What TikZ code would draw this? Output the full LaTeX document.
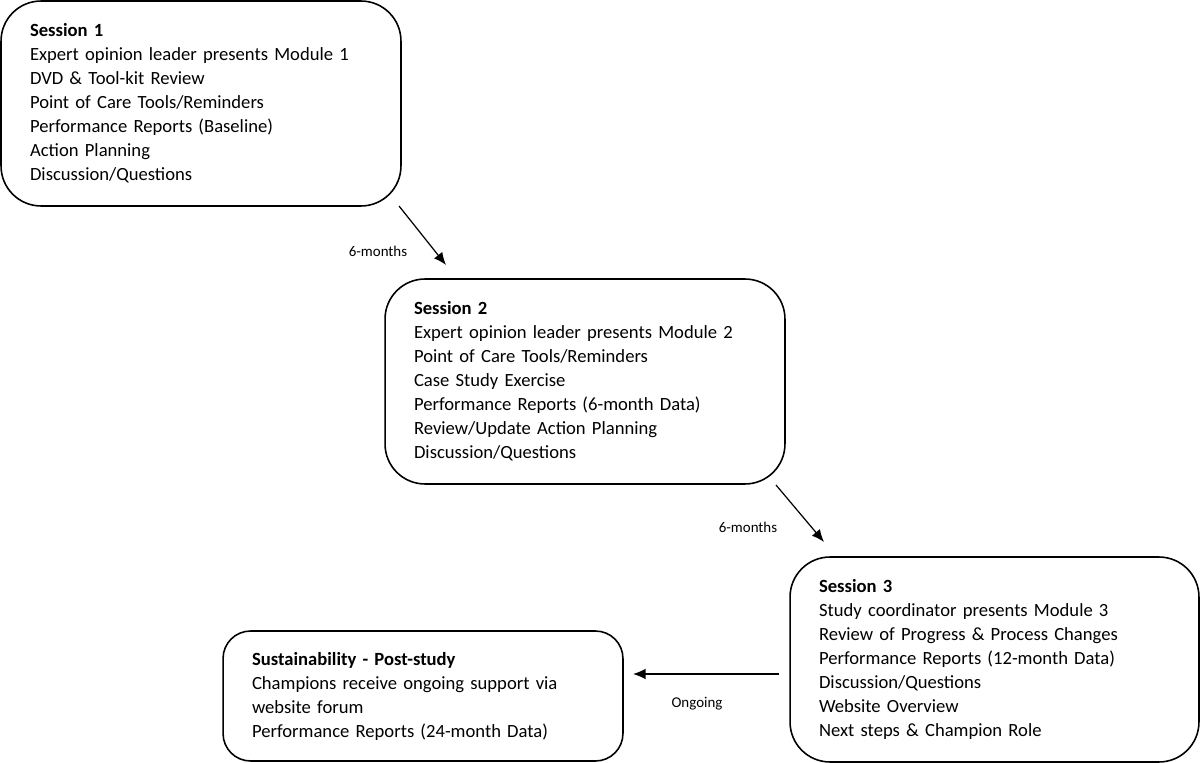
\documentclass[tikz,border=0pt]{standalone}
\usepackage{fontspec}
\setmainfont{Carlito}
\usetikzlibrary{arrows.meta, positioning}

\begin{document}
\begin{tikzpicture}[
  x = 0.02cm, y = -0.02cm,
  session/.style={draw, line width=0.9pt, rounded corners=0.8cm, align=left,
    inner xsep=0.58cm, inner ysep=0pt, minimum height=4.1cm,
    font={\fontsize{10.6}{13.66}\selectfont}},
  lapse/.style={font={\fontsize{8.5}{10}\selectfont}},
  step arrow/.style={-{Latex[length=2.5mm, width=2.1mm]}, line width=0.7pt}
]
%canvas
\useasboundingbox (0,0) rectangle (1200,763);

%sessions
\node[session, minimum width=8cm, text width=6.84cm] (s1) at (201,103.5)
  {\textbf{Session 1}\\ Expert opinion leader presents Module 1\\ DVD \& Tool-kit Review\\
   Point of Care Tools/Reminders\\ Performance Reports (Baseline)\\ Action Planning\\ Discussion/Questions};
\node[session, minimum width=8cm, text width=6.84cm] (s2) at (585,381.5)
  {\textbf{Session 2}\\ Expert opinion leader presents Module 2\\ Point of Care Tools/Reminders\\
   Case Study Exercise\\ Performance Reports (6-month Data)\\ Review/Update Action Planning\\ Discussion/Questions};
\node[session, minimum width=8.18cm, text width=7.02cm] (s3) at (994.5,659.5)
  {\textbf{Session 3}\\ Study coordinator presents Module 3\\ Review of Progress \& Process Changes\\
   Performance Reports (12-month Data)\\ Discussion/Questions\\ Website Overview\\ Next steps \& Champion Role};
\node[session, rounded corners=0.55cm, minimum width=8cm, minimum height=2.6cm, text width=6.84cm] (post) at (423,696)
  {\textbf{Sustainability - Post-study}\\ Champions receive ongoing support via\\ website forum\\
   Performance Reports (24-month Data)};

%arrow ends
\coordinate (a1s) at (399,206);
\coordinate (a1e) at (446,265);
\coordinate (a2s) at (776,485);
\coordinate (a2e) at (824,542);
\coordinate (a3s) at (779,674);
\coordinate (a3e) at (633,674);

\draw[step arrow] (a1s) -- (a1e);
\draw[step arrow] (a2s) -- (a2e);
\draw[step arrow] (a3s) -- (a3e);

%lapse labels
\node[lapse] (l1) at (378,251) {6-months};
\node[lapse] (l2) at (748,527) {6-months};
\node[lapse] (l3) at (697,704) {Ongoing};

\end{tikzpicture}
\end{document}
